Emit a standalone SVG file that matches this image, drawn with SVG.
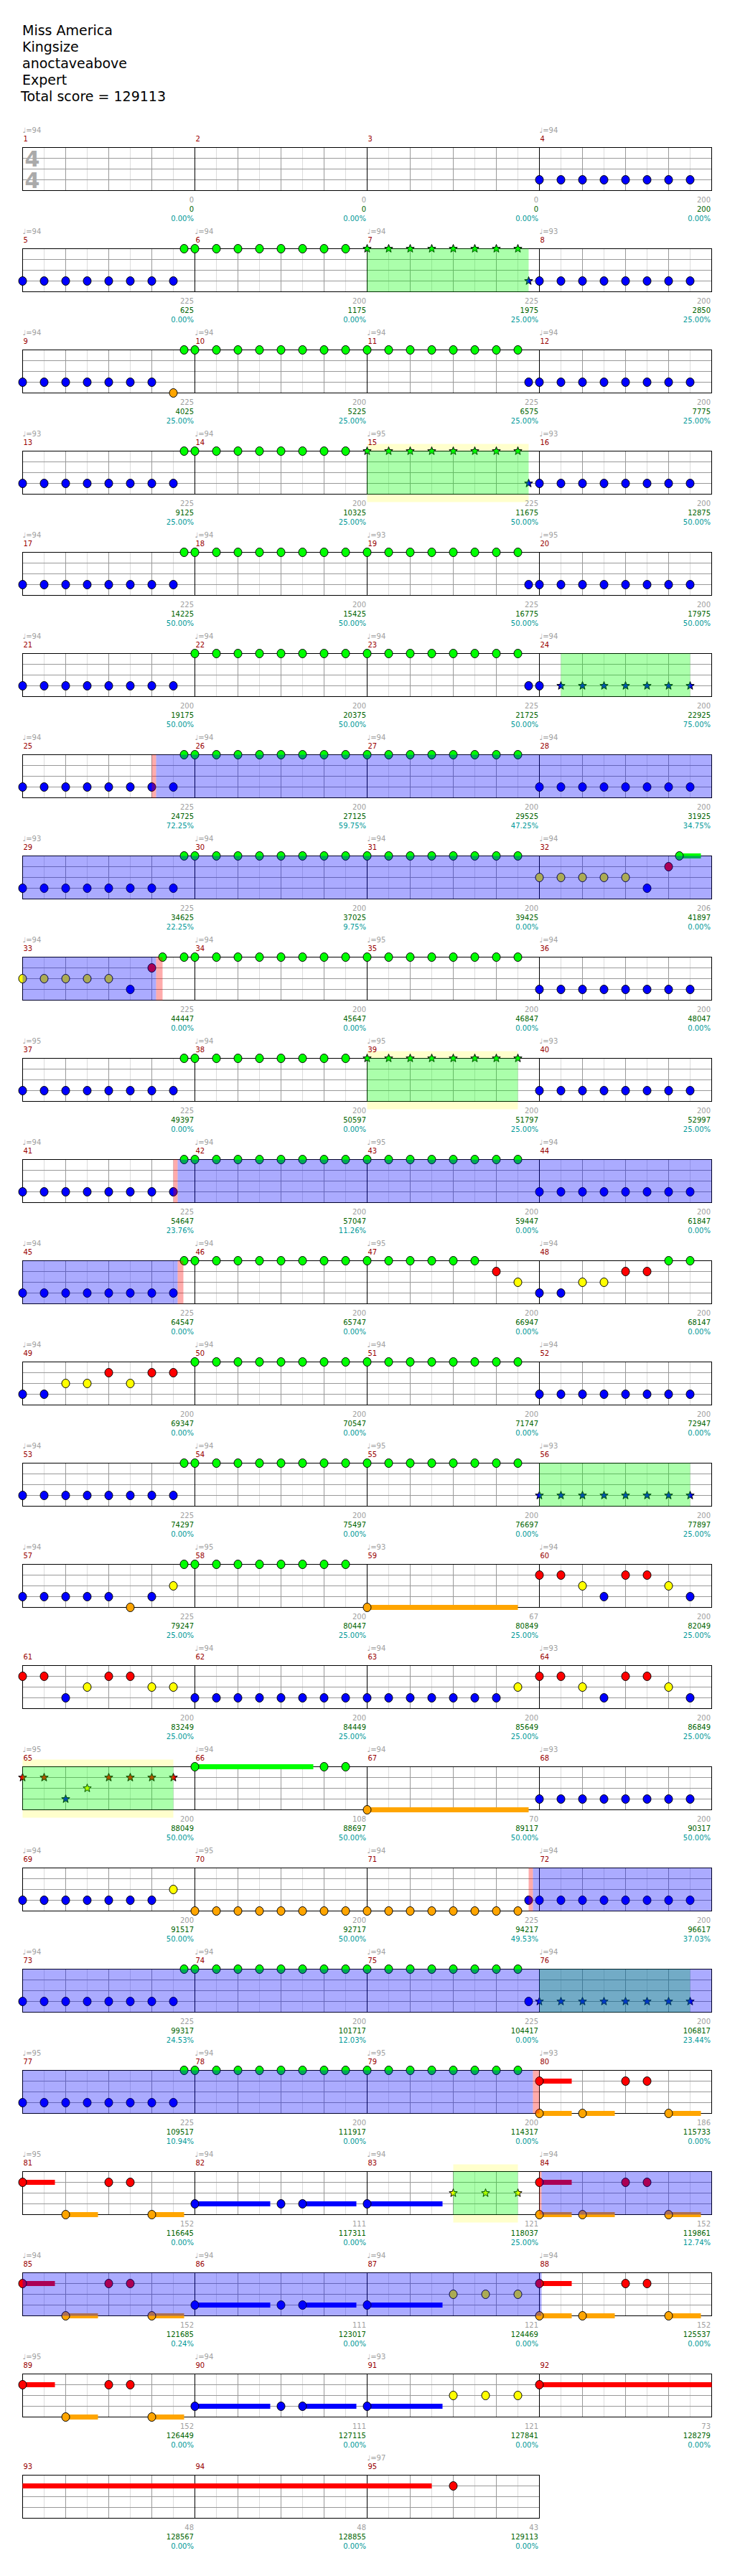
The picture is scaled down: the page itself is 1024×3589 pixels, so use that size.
<svg xmlns="http://www.w3.org/2000/svg" width="1024" height="3589" viewBox="0 0 1024 3589">
<style>
.title{font-family:"DejaVu Sans",Verdana,sans-serif;font-size:19px;fill:#000}
.t{font-family:"DejaVu Sans",Verdana,sans-serif;font-size:10px}
.tp{fill:#a0a0a0}
.mn{fill:#990000}
.l1{fill:#a0a0a0;text-anchor:end}
.l2{fill:#006400;text-anchor:end}
.l3{fill:#009999;text-anchor:end}
.ts{font-family:"DejaVu Sans",sans-serif;font-size:30px;font-weight:bold;fill:#aaaaaa}
.nt{stroke:#000;stroke-width:1}
.lt{stroke:#dcdcdc;stroke-width:1;fill:none}
.dk{stroke:#999;stroke-width:1;fill:none}
.bl{stroke:#000;stroke-width:1;fill:none}
.bd{fill:none;stroke:#000;stroke-width:1}
.bg{fill:#fff}
.zg{fill:#00ff00;fill-opacity:.33}
.zb{fill:#0000ff;fill-opacity:.33}
.zr{fill:#ff0000;fill-opacity:.33}
.zy{fill:#ffffcc}
.sr{fill:#ff0000}.sg{fill:#00ff00}.sb{fill:#0000ff}.so{fill:#ffa500}
</style>
<defs>
<ellipse id="G" class="nt" rx="5.5" ry="6" fill="#00ff00"/>
<ellipse id="R" class="nt" rx="5.5" ry="6" fill="#ff0000"/>
<ellipse id="Y" class="nt" rx="5.5" ry="6" fill="#ffff00"/>
<ellipse id="B" class="nt" rx="5.5" ry="6" fill="#0000ff"/>
<ellipse id="O" class="nt" rx="5.5" ry="6" fill="#ffa500"/>
<path id="SG" class="nt" fill="#00ff00" d="M0,-6L1.47,-2.02L5.71,-1.85L2.38,0.77L3.53,4.85L0,2.5L-3.53,4.85L-2.38,0.77L-5.71,-1.85L-1.47,-2.02Z"/>
<path id="SR" class="nt" fill="#ff0000" d="M0,-6L1.47,-2.02L5.71,-1.85L2.38,0.77L3.53,4.85L0,2.5L-3.53,4.85L-2.38,0.77L-5.71,-1.85L-1.47,-2.02Z"/>
<path id="SY" class="nt" fill="#ffff00" d="M0,-6L1.47,-2.02L5.71,-1.85L2.38,0.77L3.53,4.85L0,2.5L-3.53,4.85L-2.38,0.77L-5.71,-1.85L-1.47,-2.02Z"/>
<path id="SB" class="nt" fill="#0000ff" d="M0,-6L1.47,-2.02L5.71,-1.85L2.38,0.77L3.53,4.85L0,2.5L-3.53,4.85L-2.38,0.77L-5.71,-1.85L-1.47,-2.02Z"/>
<g id="B8"><use href="#B"/><use href="#B" x="30"/><use href="#B" x="60"/><use href="#B" x="90"/><use href="#B" x="120"/><use href="#B" x="150"/><use href="#B" x="180"/><use href="#B" x="210"/></g>
<g id="G8"><use href="#G"/><use href="#G" x="30"/><use href="#G" x="60"/><use href="#G" x="90"/><use href="#G" x="120"/><use href="#G" x="150"/><use href="#G" x="180"/><use href="#G" x="210"/></g>
<g id="O8"><use href="#O"/><use href="#O" x="30"/><use href="#O" x="60"/><use href="#O" x="90"/><use href="#O" x="120"/><use href="#O" x="150"/><use href="#O" x="180"/><use href="#O" x="210"/></g>
<g id="SG8"><use href="#SG"/><use href="#SG" x="30"/><use href="#SG" x="60"/><use href="#SG" x="90"/><use href="#SG" x="120"/><use href="#SG" x="150"/><use href="#SG" x="180"/><use href="#SG" x="210"/></g>
<g id="SB8"><use href="#SB"/><use href="#SB" x="30"/><use href="#SB" x="60"/><use href="#SB" x="90"/><use href="#SB" x="120"/><use href="#SB" x="150"/><use href="#SB" x="180"/><use href="#SB" x="210"/></g>
<g id="M">
<path class="lt" d="M30,0V60M90,0V60M150,0V60M210,0V60"/>
<path class="dk" d="M60,0V60M120,0V60M180,0V60M0,15H240M0,30H240M0,45H240"/>
<path class="bl" d="M0,0V60"/>
</g>
<g id="S"><rect class="bg" width="960" height="60"/><use href="#M"/><use href="#M" x="240"/><use href="#M" x="480"/><use href="#M" x="720"/><rect class="bd" width="960" height="60"/></g>
<g id="S3"><rect class="bg" width="720" height="60"/><use href="#M"/><use href="#M" x="240"/><use href="#M" x="480"/><rect class="bd" width="720" height="60"/></g>
<g id="P">
<rect class="sr" x="0" y="11.5" width="45" height="7"/>
<rect class="so" x="60" y="56.5" width="45" height="7"/><rect class="so" x="180" y="56.5" width="45" height="7"/>
<rect class="sb" x="240" y="41.5" width="105" height="7"/><rect class="sb" x="390" y="41.5" width="75" height="7"/><rect class="sb" x="480" y="41.5" width="105" height="7"/>
<use href="#R" y="15"/><use href="#R" x="120" y="15"/><use href="#R" x="150" y="15"/>
<use href="#O" x="60" y="60"/><use href="#O" x="180" y="60"/>
<use href="#B" x="240" y="45"/><use href="#B" x="360" y="45"/><use href="#B" x="390" y="45"/><use href="#B" x="480" y="45"/>
</g>
<g id="P4">
<rect class="sr" x="720" y="11.5" width="45" height="7"/>
<rect class="so" x="720" y="56.5" width="45" height="7"/><rect class="so" x="780" y="56.5" width="45" height="7"/><rect class="so" x="900" y="56.5" width="45" height="7"/>
<use href="#R" x="720" y="15"/><use href="#R" x="840" y="15"/><use href="#R" x="870" y="15"/>
<use href="#O" x="720" y="60"/><use href="#O" x="780" y="60"/><use href="#O" x="900" y="60"/>
</g>
</defs>
<rect width="1024" height="3589" fill="#fff"/>
<g id="title" class="title">
<text x="31" y="49">Miss America</text>
<text x="31" y="72">Kingsize</text>
<text x="31" y="95">anoctaveabove</text>
<text x="31" y="118">Expert</text>
<text x="29" y="141">Total score = 129113</text>
</g>

<g id="row1" transform="translate(31.5,205.5)">
<use href="#S"/>
<text class="ts" x="3" y="26.5">4</text><text class="ts" x="3" y="56.5">4</text>
<use href="#B8" x="720" y="45"/>
<g class="t">
<text class="tp" x="0" y="-21">♩=94</text><text class="tp" x="720" y="-21">♩=94</text>
<text class="mn" x="1" y="-8.5">1</text><text class="mn" x="241" y="-8.5">2</text><text class="mn" x="481" y="-8.5">3</text><text class="mn" x="721" y="-8.5">4</text>
<text class="l1" x="238.5" y="76">0</text><text class="l2" x="238.5" y="89">0</text><text class="l3" x="238.5" y="102">0.00%</text>
<text class="l1" x="478.5" y="76">0</text><text class="l2" x="478.5" y="89">0</text><text class="l3" x="478.5" y="102">0.00%</text>
<text class="l1" x="718.5" y="76">0</text><text class="l2" x="718.5" y="89">0</text><text class="l3" x="718.5" y="102">0.00%</text>
<text class="l1" x="958.5" y="76">200</text><text class="l2" x="958.5" y="89">200</text><text class="l3" x="958.5" y="102">0.00%</text>
</g>
</g>

<g id="row2" transform="translate(31.5,346.5)">
<use href="#S"/>
<use href="#B8" y="45"/><use href="#G" x="225"/><use href="#G8" x="240"/><use href="#SG8" x="480"/><use href="#SB" x="705" y="45"/><use href="#B8" x="720" y="45"/>
<rect class="zg" x="480" width="225" height="60"/>
<g class="t">
<text class="tp" x="0" y="-21">♩=94</text><text class="tp" x="240" y="-21">♩=94</text><text class="tp" x="480" y="-21">♩=94</text><text class="tp" x="720" y="-21">♩=93</text>
<text class="mn" x="1" y="-8.5">5</text><text class="mn" x="241" y="-8.5">6</text><text class="mn" x="481" y="-8.5">7</text><text class="mn" x="721" y="-8.5">8</text>
<text class="l1" x="238.5" y="76">225</text><text class="l2" x="238.5" y="89">625</text><text class="l3" x="238.5" y="102">0.00%</text>
<text class="l1" x="478.5" y="76">200</text><text class="l2" x="478.5" y="89">1175</text><text class="l3" x="478.5" y="102">0.00%</text>
<text class="l1" x="718.5" y="76">225</text><text class="l2" x="718.5" y="89">1975</text><text class="l3" x="718.5" y="102">25.00%</text>
<text class="l1" x="958.5" y="76">200</text><text class="l2" x="958.5" y="89">2850</text><text class="l3" x="958.5" y="102">25.00%</text>
</g>
</g>

<g id="row3" transform="translate(31.5,487.5)">
<use href="#S"/>
<use href="#B" y="45"/><use href="#B" x="30" y="45"/><use href="#B" x="60" y="45"/><use href="#B" x="90" y="45"/><use href="#B" x="120" y="45"/><use href="#B" x="150" y="45"/><use href="#B" x="180" y="45"/>
<use href="#O" x="210" y="60"/><use href="#G" x="225"/><use href="#G8" x="240"/><use href="#G8" x="480"/><use href="#B" x="705" y="45"/><use href="#B8" x="720" y="45"/>
<g class="t">
<text class="tp" x="0" y="-21">♩=94</text><text class="tp" x="240" y="-21">♩=94</text><text class="tp" x="480" y="-21">♩=94</text><text class="tp" x="720" y="-21">♩=94</text>
<text class="mn" x="1" y="-8.5">9</text><text class="mn" x="241" y="-8.5">10</text><text class="mn" x="481" y="-8.5">11</text><text class="mn" x="721" y="-8.5">12</text>
<text class="l1" x="238.5" y="76">225</text><text class="l2" x="238.5" y="89">4025</text><text class="l3" x="238.5" y="102">25.00%</text>
<text class="l1" x="478.5" y="76">200</text><text class="l2" x="478.5" y="89">5225</text><text class="l3" x="478.5" y="102">25.00%</text>
<text class="l1" x="718.5" y="76">225</text><text class="l2" x="718.5" y="89">6575</text><text class="l3" x="718.5" y="102">25.00%</text>
<text class="l1" x="958.5" y="76">200</text><text class="l2" x="958.5" y="89">7775</text><text class="l3" x="958.5" y="102">25.00%</text>
</g>
</g>

<g id="row4" transform="translate(31.5,628.5)">
<rect class="zy" x="480" y="-10" width="225" height="81"/>
<use href="#S"/>
<use href="#B8" y="45"/><use href="#G" x="225"/><use href="#G8" x="240"/><use href="#SG8" x="480"/><use href="#SB" x="705" y="45"/><use href="#B8" x="720" y="45"/>
<rect class="zg" x="480" width="225" height="60"/>
<g class="t">
<text class="tp" x="0" y="-21">♩=93</text><text class="tp" x="240" y="-21">♩=94</text><text class="tp" x="480" y="-21">♩=95</text><text class="tp" x="720" y="-21">♩=93</text>
<text class="mn" x="1" y="-8.5">13</text><text class="mn" x="241" y="-8.5">14</text><text class="mn" x="481" y="-8.5">15</text><text class="mn" x="721" y="-8.5">16</text>
<text class="l1" x="238.5" y="76">225</text><text class="l2" x="238.5" y="89">9125</text><text class="l3" x="238.5" y="102">25.00%</text>
<text class="l1" x="478.5" y="76">200</text><text class="l2" x="478.5" y="89">10325</text><text class="l3" x="478.5" y="102">25.00%</text>
<text class="l1" x="718.5" y="76">225</text><text class="l2" x="718.5" y="89">11675</text><text class="l3" x="718.5" y="102">50.00%</text>
<text class="l1" x="958.5" y="76">200</text><text class="l2" x="958.5" y="89">12875</text><text class="l3" x="958.5" y="102">50.00%</text>
</g>
</g>

<g id="row5" transform="translate(31.5,769.5)">
<use href="#S"/>
<use href="#B8" y="45"/><use href="#G" x="225"/><use href="#G8" x="240"/><use href="#G8" x="480"/><use href="#B" x="705" y="45"/><use href="#B8" x="720" y="45"/>
<g class="t">
<text class="tp" x="0" y="-21">♩=94</text><text class="tp" x="240" y="-21">♩=94</text><text class="tp" x="480" y="-21">♩=93</text><text class="tp" x="720" y="-21">♩=95</text>
<text class="mn" x="1" y="-8.5">17</text><text class="mn" x="241" y="-8.5">18</text><text class="mn" x="481" y="-8.5">19</text><text class="mn" x="721" y="-8.5">20</text>
<text class="l1" x="238.5" y="76">225</text><text class="l2" x="238.5" y="89">14225</text><text class="l3" x="238.5" y="102">50.00%</text>
<text class="l1" x="478.5" y="76">200</text><text class="l2" x="478.5" y="89">15425</text><text class="l3" x="478.5" y="102">50.00%</text>
<text class="l1" x="718.5" y="76">225</text><text class="l2" x="718.5" y="89">16775</text><text class="l3" x="718.5" y="102">50.00%</text>
<text class="l1" x="958.5" y="76">200</text><text class="l2" x="958.5" y="89">17975</text><text class="l3" x="958.5" y="102">50.00%</text>
</g>
</g>

<g id="row6" transform="translate(31.5,910.5)">
<use href="#S"/>
<use href="#B8" y="45"/><use href="#G8" x="240"/><use href="#G8" x="480"/><use href="#B" x="705" y="45"/><use href="#B" x="720" y="45"/>
<use href="#SB" x="750" y="45"/><use href="#SB" x="780" y="45"/><use href="#SB" x="810" y="45"/><use href="#SB" x="840" y="45"/><use href="#SB" x="870" y="45"/><use href="#SB" x="900" y="45"/><use href="#SB" x="930" y="45"/>
<rect class="zg" x="750" width="180" height="60"/>
<g class="t">
<text class="tp" x="0" y="-21">♩=94</text><text class="tp" x="240" y="-21">♩=94</text><text class="tp" x="480" y="-21">♩=94</text><text class="tp" x="720" y="-21">♩=94</text>
<text class="mn" x="1" y="-8.5">21</text><text class="mn" x="241" y="-8.5">22</text><text class="mn" x="481" y="-8.5">23</text><text class="mn" x="721" y="-8.5">24</text>
<text class="l1" x="238.5" y="76">200</text><text class="l2" x="238.5" y="89">19175</text><text class="l3" x="238.5" y="102">50.00%</text>
<text class="l1" x="478.5" y="76">200</text><text class="l2" x="478.5" y="89">20375</text><text class="l3" x="478.5" y="102">50.00%</text>
<text class="l1" x="718.5" y="76">225</text><text class="l2" x="718.5" y="89">21725</text><text class="l3" x="718.5" y="102">50.00%</text>
<text class="l1" x="958.5" y="76">200</text><text class="l2" x="958.5" y="89">22925</text><text class="l3" x="958.5" y="102">75.00%</text>
</g>
</g>

<g id="row7" transform="translate(31.5,1051.5)">
<use href="#S"/>
<use href="#B8" y="45"/><use href="#G" x="225"/><use href="#G8" x="240"/><use href="#G8" x="480"/><use href="#B8" x="720" y="45"/>
<rect class="zr" x="180" width="6" height="60"/><rect class="zb" x="186" width="774" height="60"/>
<g class="t">
<text class="tp" x="0" y="-21">♩=94</text><text class="tp" x="240" y="-21">♩=94</text><text class="tp" x="480" y="-21">♩=94</text><text class="tp" x="720" y="-21">♩=94</text>
<text class="mn" x="1" y="-8.5">25</text><text class="mn" x="241" y="-8.5">26</text><text class="mn" x="481" y="-8.5">27</text><text class="mn" x="721" y="-8.5">28</text>
<text class="l1" x="238.5" y="76">225</text><text class="l2" x="238.5" y="89">24725</text><text class="l3" x="238.5" y="102">72.25%</text>
<text class="l1" x="478.5" y="76">200</text><text class="l2" x="478.5" y="89">27125</text><text class="l3" x="478.5" y="102">59.75%</text>
<text class="l1" x="718.5" y="76">200</text><text class="l2" x="718.5" y="89">29525</text><text class="l3" x="718.5" y="102">47.25%</text>
<text class="l1" x="958.5" y="76">200</text><text class="l2" x="958.5" y="89">31925</text><text class="l3" x="958.5" y="102">34.75%</text>
</g>
</g>

<g id="row8" transform="translate(31.5,1192.5)">
<use href="#S"/>
<rect class="sg" x="915" y="-3.5" width="30" height="7"/>
<use href="#B8" y="45"/><use href="#G" x="225"/><use href="#G8" x="240"/><use href="#G8" x="480"/>
<use href="#Y" x="720" y="30"/><use href="#Y" x="750" y="30"/><use href="#Y" x="780" y="30"/><use href="#Y" x="810" y="30"/><use href="#Y" x="840" y="30"/>
<use href="#B" x="870" y="45"/><use href="#R" x="900" y="15"/><use href="#G" x="915"/>
<rect class="zb" x="0" width="960" height="60"/>
<g class="t">
<text class="tp" x="0" y="-21">♩=93</text><text class="tp" x="240" y="-21">♩=94</text><text class="tp" x="480" y="-21">♩=94</text><text class="tp" x="720" y="-21">♩=94</text>
<text class="mn" x="1" y="-8.5">29</text><text class="mn" x="241" y="-8.5">30</text><text class="mn" x="481" y="-8.5">31</text><text class="mn" x="721" y="-8.5">32</text>
<text class="l1" x="238.5" y="76">225</text><text class="l2" x="238.5" y="89">34625</text><text class="l3" x="238.5" y="102">22.25%</text>
<text class="l1" x="478.5" y="76">200</text><text class="l2" x="478.5" y="89">37025</text><text class="l3" x="478.5" y="102">9.75%</text>
<text class="l1" x="718.5" y="76">200</text><text class="l2" x="718.5" y="89">39425</text><text class="l3" x="718.5" y="102">0.00%</text>
<text class="l1" x="958.5" y="76">206</text><text class="l2" x="958.5" y="89">41897</text><text class="l3" x="958.5" y="102">0.00%</text>
</g>
</g>

<g id="row9" transform="translate(31.5,1333.5)">
<use href="#S"/>
<use href="#Y" y="30"/><use href="#Y" x="30" y="30"/><use href="#Y" x="60" y="30"/><use href="#Y" x="90" y="30"/><use href="#Y" x="120" y="30"/>
<use href="#B" x="150" y="45"/><use href="#R" x="180" y="15"/><use href="#G" x="195"/><use href="#G" x="225"/><use href="#G8" x="240"/><use href="#G8" x="480"/><use href="#B8" x="720" y="45"/>
<rect class="zb" x="0" width="186" height="60"/><rect class="zr" x="186" width="9" height="60"/>
<g class="t">
<text class="tp" x="0" y="-21">♩=94</text><text class="tp" x="240" y="-21">♩=94</text><text class="tp" x="480" y="-21">♩=95</text><text class="tp" x="720" y="-21">♩=94</text>
<text class="mn" x="1" y="-8.5">33</text><text class="mn" x="241" y="-8.5">34</text><text class="mn" x="481" y="-8.5">35</text><text class="mn" x="721" y="-8.5">36</text>
<text class="l1" x="238.5" y="76">225</text><text class="l2" x="238.5" y="89">44447</text><text class="l3" x="238.5" y="102">0.00%</text>
<text class="l1" x="478.5" y="76">200</text><text class="l2" x="478.5" y="89">45647</text><text class="l3" x="478.5" y="102">0.00%</text>
<text class="l1" x="718.5" y="76">200</text><text class="l2" x="718.5" y="89">46847</text><text class="l3" x="718.5" y="102">0.00%</text>
<text class="l1" x="958.5" y="76">200</text><text class="l2" x="958.5" y="89">48047</text><text class="l3" x="958.5" y="102">0.00%</text>
</g>
</g>

<g id="row10" transform="translate(31.5,1474.5)">
<rect class="zy" x="480" y="-10" width="210" height="81"/>
<use href="#S"/>
<use href="#B8" y="45"/><use href="#G" x="225"/><use href="#G8" x="240"/><use href="#SG8" x="480"/><use href="#B8" x="720" y="45"/>
<rect class="zg" x="480" width="210" height="60"/>
<g class="t">
<text class="tp" x="0" y="-21">♩=95</text><text class="tp" x="240" y="-21">♩=94</text><text class="tp" x="480" y="-21">♩=95</text><text class="tp" x="720" y="-21">♩=93</text>
<text class="mn" x="1" y="-8.5">37</text><text class="mn" x="241" y="-8.5">38</text><text class="mn" x="481" y="-8.5">39</text><text class="mn" x="721" y="-8.5">40</text>
<text class="l1" x="238.5" y="76">225</text><text class="l2" x="238.5" y="89">49397</text><text class="l3" x="238.5" y="102">0.00%</text>
<text class="l1" x="478.5" y="76">200</text><text class="l2" x="478.5" y="89">50597</text><text class="l3" x="478.5" y="102">0.00%</text>
<text class="l1" x="718.5" y="76">200</text><text class="l2" x="718.5" y="89">51797</text><text class="l3" x="718.5" y="102">25.00%</text>
<text class="l1" x="958.5" y="76">200</text><text class="l2" x="958.5" y="89">52997</text><text class="l3" x="958.5" y="102">25.00%</text>
</g>
</g>

<g id="row11" transform="translate(31.5,1615.5)">
<use href="#S"/>
<use href="#B8" y="45"/><use href="#G" x="225"/><use href="#G8" x="240"/><use href="#G8" x="480"/><use href="#B8" x="720" y="45"/>
<rect class="zr" x="210" width="6" height="60"/><rect class="zb" x="216" width="744" height="60"/>
<g class="t">
<text class="tp" x="0" y="-21">♩=94</text><text class="tp" x="240" y="-21">♩=94</text><text class="tp" x="480" y="-21">♩=95</text><text class="tp" x="720" y="-21">♩=94</text>
<text class="mn" x="1" y="-8.5">41</text><text class="mn" x="241" y="-8.5">42</text><text class="mn" x="481" y="-8.5">43</text><text class="mn" x="721" y="-8.5">44</text>
<text class="l1" x="238.5" y="76">225</text><text class="l2" x="238.5" y="89">54647</text><text class="l3" x="238.5" y="102">23.76%</text>
<text class="l1" x="478.5" y="76">200</text><text class="l2" x="478.5" y="89">57047</text><text class="l3" x="478.5" y="102">11.26%</text>
<text class="l1" x="718.5" y="76">200</text><text class="l2" x="718.5" y="89">59447</text><text class="l3" x="718.5" y="102">0.00%</text>
<text class="l1" x="958.5" y="76">200</text><text class="l2" x="958.5" y="89">61847</text><text class="l3" x="958.5" y="102">0.00%</text>
</g>
</g>

<g id="row12" transform="translate(31.5,1756.5)">
<use href="#S"/>
<use href="#B8" y="45"/><use href="#G" x="225"/><use href="#G8" x="240"/>
<use href="#G" x="480"/><use href="#G" x="510"/><use href="#G" x="540"/><use href="#G" x="570"/><use href="#G" x="600"/><use href="#G" x="630"/>
<use href="#R" x="660" y="15"/><use href="#Y" x="690" y="30"/><use href="#B" x="720" y="45"/><use href="#B" x="750" y="45"/>
<use href="#Y" x="780" y="30"/><use href="#Y" x="810" y="30"/><use href="#R" x="840" y="15"/><use href="#R" x="870" y="15"/><use href="#G" x="900"/><use href="#G" x="930"/>
<rect class="zb" x="0" width="216" height="60"/><rect class="zr" x="216" width="8" height="60"/>
<g class="t">
<text class="tp" x="0" y="-21">♩=94</text><text class="tp" x="240" y="-21">♩=94</text><text class="tp" x="480" y="-21">♩=95</text><text class="tp" x="720" y="-21">♩=94</text>
<text class="mn" x="1" y="-8.5">45</text><text class="mn" x="241" y="-8.5">46</text><text class="mn" x="481" y="-8.5">47</text><text class="mn" x="721" y="-8.5">48</text>
<text class="l1" x="238.5" y="76">225</text><text class="l2" x="238.5" y="89">64547</text><text class="l3" x="238.5" y="102">0.00%</text>
<text class="l1" x="478.5" y="76">200</text><text class="l2" x="478.5" y="89">65747</text><text class="l3" x="478.5" y="102">0.00%</text>
<text class="l1" x="718.5" y="76">200</text><text class="l2" x="718.5" y="89">66947</text><text class="l3" x="718.5" y="102">0.00%</text>
<text class="l1" x="958.5" y="76">200</text><text class="l2" x="958.5" y="89">68147</text><text class="l3" x="958.5" y="102">0.00%</text>
</g>
</g>

<g id="row13" transform="translate(31.5,1897.5)">
<use href="#S"/>
<use href="#B" y="45"/><use href="#B" x="30" y="45"/><use href="#Y" x="60" y="30"/><use href="#Y" x="90" y="30"/><use href="#R" x="120" y="15"/><use href="#Y" x="150" y="30"/><use href="#R" x="180" y="15"/><use href="#R" x="210" y="15"/>
<use href="#G8" x="240"/><use href="#G8" x="480"/><use href="#B8" x="720" y="45"/>
<g class="t">
<text class="tp" x="0" y="-21">♩=94</text><text class="tp" x="240" y="-21">♩=94</text><text class="tp" x="480" y="-21">♩=94</text><text class="tp" x="720" y="-21">♩=94</text>
<text class="mn" x="1" y="-8.5">49</text><text class="mn" x="241" y="-8.5">50</text><text class="mn" x="481" y="-8.5">51</text><text class="mn" x="721" y="-8.5">52</text>
<text class="l1" x="238.5" y="76">200</text><text class="l2" x="238.5" y="89">69347</text><text class="l3" x="238.5" y="102">0.00%</text>
<text class="l1" x="478.5" y="76">200</text><text class="l2" x="478.5" y="89">70547</text><text class="l3" x="478.5" y="102">0.00%</text>
<text class="l1" x="718.5" y="76">200</text><text class="l2" x="718.5" y="89">71747</text><text class="l3" x="718.5" y="102">0.00%</text>
<text class="l1" x="958.5" y="76">200</text><text class="l2" x="958.5" y="89">72947</text><text class="l3" x="958.5" y="102">0.00%</text>
</g>
</g>

<g id="row14" transform="translate(31.5,2038.5)">
<use href="#S"/>
<use href="#B8" y="45"/><use href="#G" x="225"/><use href="#G8" x="240"/><use href="#G8" x="480"/><use href="#SB8" x="720" y="45"/>
<rect class="zg" x="720" width="210" height="60"/>
<g class="t">
<text class="tp" x="0" y="-21">♩=94</text><text class="tp" x="240" y="-21">♩=94</text><text class="tp" x="480" y="-21">♩=95</text><text class="tp" x="720" y="-21">♩=93</text>
<text class="mn" x="1" y="-8.5">53</text><text class="mn" x="241" y="-8.5">54</text><text class="mn" x="481" y="-8.5">55</text><text class="mn" x="721" y="-8.5">56</text>
<text class="l1" x="238.5" y="76">225</text><text class="l2" x="238.5" y="89">74297</text><text class="l3" x="238.5" y="102">0.00%</text>
<text class="l1" x="478.5" y="76">200</text><text class="l2" x="478.5" y="89">75497</text><text class="l3" x="478.5" y="102">0.00%</text>
<text class="l1" x="718.5" y="76">200</text><text class="l2" x="718.5" y="89">76697</text><text class="l3" x="718.5" y="102">0.00%</text>
<text class="l1" x="958.5" y="76">200</text><text class="l2" x="958.5" y="89">77897</text><text class="l3" x="958.5" y="102">25.00%</text>
</g>
</g>

<g id="row15" transform="translate(31.5,2179.5)">
<use href="#S"/>
<rect class="so" x="480" y="56.5" width="210" height="7"/>
<use href="#B" y="45"/><use href="#B" x="30" y="45"/><use href="#B" x="60" y="45"/><use href="#B" x="90" y="45"/><use href="#B" x="120" y="45"/>
<use href="#O" x="150" y="60"/><use href="#B" x="180" y="45"/><use href="#Y" x="210" y="30"/><use href="#G" x="225"/><use href="#G8" x="240"/>
<use href="#O" x="480" y="60"/>
<use href="#R" x="720" y="15"/><use href="#R" x="750" y="15"/><use href="#Y" x="780" y="30"/><use href="#B" x="810" y="45"/><use href="#R" x="840" y="15"/><use href="#R" x="870" y="15"/><use href="#Y" x="900" y="30"/><use href="#B" x="930" y="45"/>
<g class="t">
<text class="tp" x="0" y="-21">♩=94</text><text class="tp" x="240" y="-21">♩=95</text><text class="tp" x="480" y="-21">♩=93</text><text class="tp" x="720" y="-21">♩=94</text>
<text class="mn" x="1" y="-8.5">57</text><text class="mn" x="241" y="-8.5">58</text><text class="mn" x="481" y="-8.5">59</text><text class="mn" x="721" y="-8.5">60</text>
<text class="l1" x="238.5" y="76">225</text><text class="l2" x="238.5" y="89">79247</text><text class="l3" x="238.5" y="102">25.00%</text>
<text class="l1" x="478.5" y="76">200</text><text class="l2" x="478.5" y="89">80447</text><text class="l3" x="478.5" y="102">25.00%</text>
<text class="l1" x="718.5" y="76">67</text><text class="l2" x="718.5" y="89">80849</text><text class="l3" x="718.5" y="102">25.00%</text>
<text class="l1" x="958.5" y="76">200</text><text class="l2" x="958.5" y="89">82049</text><text class="l3" x="958.5" y="102">25.00%</text>
</g>
</g>

<g id="row16" transform="translate(31.5,2320.5)">
<use href="#S"/>
<use href="#R" y="15"/><use href="#R" x="30" y="15"/><use href="#B" x="60" y="45"/><use href="#Y" x="90" y="30"/><use href="#R" x="120" y="15"/><use href="#R" x="150" y="15"/><use href="#Y" x="180" y="30"/><use href="#Y" x="210" y="30"/>
<use href="#B8" x="240" y="45"/>
<use href="#B" x="480" y="45"/><use href="#B" x="510" y="45"/><use href="#B" x="540" y="45"/><use href="#B" x="570" y="45"/><use href="#B" x="600" y="45"/><use href="#B" x="630" y="45"/><use href="#B" x="660" y="45"/><use href="#Y" x="690" y="30"/>
<use href="#R" x="720" y="15"/><use href="#R" x="750" y="15"/><use href="#Y" x="780" y="30"/><use href="#B" x="810" y="45"/><use href="#R" x="840" y="15"/><use href="#R" x="870" y="15"/><use href="#Y" x="900" y="30"/><use href="#B" x="930" y="45"/>
<g class="t">
<text class="tp" x="240" y="-21">♩=94</text><text class="tp" x="480" y="-21">♩=94</text><text class="tp" x="720" y="-21">♩=93</text>
<text class="mn" x="1" y="-8.5">61</text><text class="mn" x="241" y="-8.5">62</text><text class="mn" x="481" y="-8.5">63</text><text class="mn" x="721" y="-8.5">64</text>
<text class="l1" x="238.5" y="76">200</text><text class="l2" x="238.5" y="89">83249</text><text class="l3" x="238.5" y="102">25.00%</text>
<text class="l1" x="478.5" y="76">200</text><text class="l2" x="478.5" y="89">84449</text><text class="l3" x="478.5" y="102">25.00%</text>
<text class="l1" x="718.5" y="76">200</text><text class="l2" x="718.5" y="89">85649</text><text class="l3" x="718.5" y="102">25.00%</text>
<text class="l1" x="958.5" y="76">200</text><text class="l2" x="958.5" y="89">86849</text><text class="l3" x="958.5" y="102">25.00%</text>
</g>
</g>

<g id="row17" transform="translate(31.5,2461.5)">
<rect class="zy" x="0" y="-10" width="210" height="81"/>
<use href="#S"/>
<rect class="sg" x="240" y="-3.5" width="165" height="7"/><rect class="so" x="480" y="56.5" width="225" height="7"/>
<use href="#SR" y="15"/><use href="#SR" x="30" y="15"/><use href="#SB" x="60" y="45"/><use href="#SY" x="90" y="30"/><use href="#SR" x="120" y="15"/><use href="#SR" x="150" y="15"/><use href="#SR" x="180" y="15"/><use href="#SR" x="210" y="15"/>
<use href="#G" x="240"/><use href="#G" x="420"/><use href="#G" x="450"/><use href="#O" x="480" y="60"/><use href="#B8" x="720" y="45"/>
<rect class="zg" x="0" width="210" height="60"/>
<g class="t">
<text class="tp" x="0" y="-21">♩=95</text><text class="tp" x="240" y="-21">♩=94</text><text class="tp" x="480" y="-21">♩=94</text><text class="tp" x="720" y="-21">♩=93</text>
<text class="mn" x="1" y="-8.5">65</text><text class="mn" x="241" y="-8.5">66</text><text class="mn" x="481" y="-8.5">67</text><text class="mn" x="721" y="-8.5">68</text>
<text class="l1" x="238.5" y="76">200</text><text class="l2" x="238.5" y="89">88049</text><text class="l3" x="238.5" y="102">50.00%</text>
<text class="l1" x="478.5" y="76">108</text><text class="l2" x="478.5" y="89">88697</text><text class="l3" x="478.5" y="102">50.00%</text>
<text class="l1" x="718.5" y="76">70</text><text class="l2" x="718.5" y="89">89117</text><text class="l3" x="718.5" y="102">50.00%</text>
<text class="l1" x="958.5" y="76">200</text><text class="l2" x="958.5" y="89">90317</text><text class="l3" x="958.5" y="102">50.00%</text>
</g>
</g>

<g id="row18" transform="translate(31.5,2602.5)">
<use href="#S"/>
<use href="#B" y="45"/><use href="#B" x="30" y="45"/><use href="#B" x="60" y="45"/><use href="#B" x="90" y="45"/><use href="#B" x="120" y="45"/><use href="#B" x="150" y="45"/><use href="#B" x="180" y="45"/><use href="#Y" x="210" y="30"/>
<use href="#O8" x="240" y="60"/><use href="#O8" x="480" y="60"/><use href="#B" x="705" y="45"/><use href="#B8" x="720" y="45"/>
<rect class="zr" x="705" width="6" height="60"/><rect class="zb" x="711" width="249" height="60"/>
<g class="t">
<text class="tp" x="0" y="-21">♩=94</text><text class="tp" x="240" y="-21">♩=95</text><text class="tp" x="480" y="-21">♩=94</text><text class="tp" x="720" y="-21">♩=94</text>
<text class="mn" x="1" y="-8.5">69</text><text class="mn" x="241" y="-8.5">70</text><text class="mn" x="481" y="-8.5">71</text><text class="mn" x="721" y="-8.5">72</text>
<text class="l1" x="238.5" y="76">200</text><text class="l2" x="238.5" y="89">91517</text><text class="l3" x="238.5" y="102">50.00%</text>
<text class="l1" x="478.5" y="76">200</text><text class="l2" x="478.5" y="89">92717</text><text class="l3" x="478.5" y="102">50.00%</text>
<text class="l1" x="718.5" y="76">225</text><text class="l2" x="718.5" y="89">94217</text><text class="l3" x="718.5" y="102">49.53%</text>
<text class="l1" x="958.5" y="76">200</text><text class="l2" x="958.5" y="89">96617</text><text class="l3" x="958.5" y="102">37.03%</text>
</g>
</g>

<g id="row19" transform="translate(31.5,2743.5)">
<use href="#S"/>
<use href="#B8" y="45"/><use href="#G" x="225"/><use href="#G8" x="240"/><use href="#G8" x="480"/><use href="#B" x="705" y="45"/><use href="#SB8" x="720" y="45"/>
<rect class="zg" x="720" width="210" height="60"/><rect class="zb" x="0" width="960" height="60"/>
<g class="t">
<text class="tp" x="0" y="-21">♩=94</text><text class="tp" x="240" y="-21">♩=94</text><text class="tp" x="480" y="-21">♩=94</text><text class="tp" x="720" y="-21">♩=94</text>
<text class="mn" x="1" y="-8.5">73</text><text class="mn" x="241" y="-8.5">74</text><text class="mn" x="481" y="-8.5">75</text><text class="mn" x="721" y="-8.5">76</text>
<text class="l1" x="238.5" y="76">225</text><text class="l2" x="238.5" y="89">99317</text><text class="l3" x="238.5" y="102">24.53%</text>
<text class="l1" x="478.5" y="76">200</text><text class="l2" x="478.5" y="89">101717</text><text class="l3" x="478.5" y="102">12.03%</text>
<text class="l1" x="718.5" y="76">225</text><text class="l2" x="718.5" y="89">104417</text><text class="l3" x="718.5" y="102">0.00%</text>
<text class="l1" x="958.5" y="76">200</text><text class="l2" x="958.5" y="89">106817</text><text class="l3" x="958.5" y="102">23.44%</text>
</g>
</g>

<g id="row20" transform="translate(31.5,2884.5)">
<use href="#S"/>
<use href="#B8" y="45"/><use href="#G" x="225"/><use href="#G8" x="240"/><use href="#G8" x="480"/><use href="#P4"/>
<rect class="zb" x="0" width="711" height="60"/><rect class="zr" x="711" width="9" height="60"/>
<g class="t">
<text class="tp" x="0" y="-21">♩=95</text><text class="tp" x="240" y="-21">♩=94</text><text class="tp" x="480" y="-21">♩=95</text><text class="tp" x="720" y="-21">♩=93</text>
<text class="mn" x="1" y="-8.5">77</text><text class="mn" x="241" y="-8.5">78</text><text class="mn" x="481" y="-8.5">79</text><text class="mn" x="721" y="-8.5">80</text>
<text class="l1" x="238.5" y="76">225</text><text class="l2" x="238.5" y="89">109517</text><text class="l3" x="238.5" y="102">10.94%</text>
<text class="l1" x="478.5" y="76">200</text><text class="l2" x="478.5" y="89">111917</text><text class="l3" x="478.5" y="102">0.00%</text>
<text class="l1" x="718.5" y="76">200</text><text class="l2" x="718.5" y="89">114317</text><text class="l3" x="718.5" y="102">0.00%</text>
<text class="l1" x="958.5" y="76">186</text><text class="l2" x="958.5" y="89">115733</text><text class="l3" x="958.5" y="102">0.00%</text>
</g>
</g>

<g id="row21" transform="translate(31.5,3025.5)">
<rect class="zy" x="600" y="-10" width="90" height="81"/>
<use href="#S"/>
<use href="#P"/><use href="#SY" x="600" y="30"/><use href="#SY" x="645" y="30"/><use href="#SY" x="690" y="30"/><use href="#P4"/>
<rect class="zg" x="600" width="90" height="60"/><rect class="zr" x="720" width="3" height="60"/><rect class="zb" x="723" width="237" height="60"/>
<g class="t">
<text class="tp" x="0" y="-21">♩=95</text><text class="tp" x="240" y="-21">♩=94</text><text class="tp" x="480" y="-21">♩=94</text><text class="tp" x="720" y="-21">♩=94</text>
<text class="mn" x="1" y="-8.5">81</text><text class="mn" x="241" y="-8.5">82</text><text class="mn" x="481" y="-8.5">83</text><text class="mn" x="721" y="-8.5">84</text>
<text class="l1" x="238.5" y="76">152</text><text class="l2" x="238.5" y="89">116645</text><text class="l3" x="238.5" y="102">0.00%</text>
<text class="l1" x="478.5" y="76">111</text><text class="l2" x="478.5" y="89">117311</text><text class="l3" x="478.5" y="102">0.00%</text>
<text class="l1" x="718.5" y="76">121</text><text class="l2" x="718.5" y="89">118037</text><text class="l3" x="718.5" y="102">25.00%</text>
<text class="l1" x="958.5" y="76">152</text><text class="l2" x="958.5" y="89">119861</text><text class="l3" x="958.5" y="102">12.74%</text>
</g>
</g>

<g id="row22" transform="translate(31.5,3166.5)">
<use href="#S"/>
<use href="#P"/><use href="#Y" x="600" y="30"/><use href="#Y" x="645" y="30"/><use href="#Y" x="690" y="30"/><use href="#P4"/>
<rect class="zb" x="0" width="723" height="60"/>
<g class="t">
<text class="tp" x="0" y="-21">♩=94</text><text class="tp" x="240" y="-21">♩=94</text><text class="tp" x="480" y="-21">♩=94</text><text class="tp" x="720" y="-21">♩=94</text>
<text class="mn" x="1" y="-8.5">85</text><text class="mn" x="241" y="-8.5">86</text><text class="mn" x="481" y="-8.5">87</text><text class="mn" x="721" y="-8.5">88</text>
<text class="l1" x="238.5" y="76">152</text><text class="l2" x="238.5" y="89">121685</text><text class="l3" x="238.5" y="102">0.24%</text>
<text class="l1" x="478.5" y="76">111</text><text class="l2" x="478.5" y="89">123017</text><text class="l3" x="478.5" y="102">0.00%</text>
<text class="l1" x="718.5" y="76">121</text><text class="l2" x="718.5" y="89">124469</text><text class="l3" x="718.5" y="102">0.00%</text>
<text class="l1" x="958.5" y="76">152</text><text class="l2" x="958.5" y="89">125537</text><text class="l3" x="958.5" y="102">0.00%</text>
</g>
</g>

<g id="row23" transform="translate(31.5,3307.5)">
<use href="#S"/>
<rect class="sr" x="720" y="11.5" width="240" height="7"/>
<use href="#P"/><use href="#Y" x="600" y="30"/><use href="#Y" x="645" y="30"/><use href="#Y" x="690" y="30"/><use href="#R" x="720" y="15"/>
<g class="t">
<text class="tp" x="0" y="-21">♩=95</text><text class="tp" x="240" y="-21">♩=94</text><text class="tp" x="480" y="-21">♩=93</text>
<text class="mn" x="1" y="-8.5">89</text><text class="mn" x="241" y="-8.5">90</text><text class="mn" x="481" y="-8.5">91</text><text class="mn" x="721" y="-8.5">92</text>
<text class="l1" x="238.5" y="76">152</text><text class="l2" x="238.5" y="89">126449</text><text class="l3" x="238.5" y="102">0.00%</text>
<text class="l1" x="478.5" y="76">111</text><text class="l2" x="478.5" y="89">127115</text><text class="l3" x="478.5" y="102">0.00%</text>
<text class="l1" x="718.5" y="76">121</text><text class="l2" x="718.5" y="89">127841</text><text class="l3" x="718.5" y="102">0.00%</text>
<text class="l1" x="958.5" y="76">73</text><text class="l2" x="958.5" y="89">128279</text><text class="l3" x="958.5" y="102">0.00%</text>
</g>
</g>

<g id="row24" transform="translate(31.5,3448.5)">
<use href="#S3"/>
<rect class="sr" x="0" y="11.5" width="570" height="7"/>
<use href="#R" x="600" y="15"/>
<g class="t">
<text class="tp" x="480" y="-21">♩=97</text>
<text class="mn" x="1" y="-8.5">93</text><text class="mn" x="241" y="-8.5">94</text><text class="mn" x="481" y="-8.5">95</text>
<text class="l1" x="238.5" y="76">48</text><text class="l2" x="238.5" y="89">128567</text><text class="l3" x="238.5" y="102">0.00%</text>
<text class="l1" x="478.5" y="76">48</text><text class="l2" x="478.5" y="89">128855</text><text class="l3" x="478.5" y="102">0.00%</text>
<text class="l1" x="718.5" y="76">43</text><text class="l2" x="718.5" y="89">129113</text><text class="l3" x="718.5" y="102">0.00%</text>
</g>
</g>
</svg>
